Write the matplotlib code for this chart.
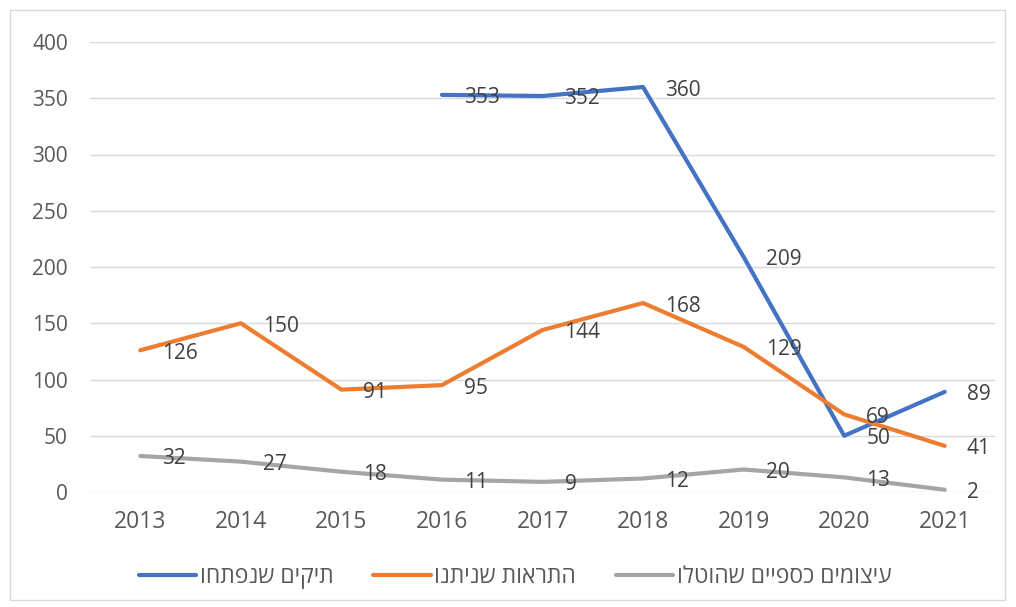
import numpy as np
import matplotlib.pyplot as plt
from matplotlib.patches import Rectangle

years = ['2013', '2014', '2015', '2016', '2017', '2018', '2019', '2020', '2021']
opened = [None, None, None, 353, 352, 360, 209, 50, 89]
warnings = [126, 150, 91, 95, 144, 168, 129, 69, 41]
sanctions = [32, 27, 18, 11, 9, 12, 20, 13, 2]

# hebrew names; matplotlib has no bidi, so reverse for visual order
names = ['תיקים שנפתחו', 'התראות שניתנו', 'עיצומים כספיים שהוטלו']
colors = ['#4472C4', '#ED7D31', '#A5A5A5']
text_color = '#595959'

plt.rcParams['font.family'] = ['Open Sans', 'DejaVu Sans']

fig = plt.figure(figsize=(10.16, 6.07), dpi=100)
ax = fig.add_axes([90 / 1016, 1 - 492 / 607, 905 / 1016, 450 / 607])

x = np.arange(len(years))
for series, name, c in zip([opened, warnings, sanctions], names, colors):
    pts = [(xi, v) for xi, v in zip(x, series) if v is not None]
    xs = [p[0] for p in pts]
    ys = [p[1] for p in pts]
    ax.plot(xs, ys, color=c, lw=3, solid_capstyle='round', label=name[::-1])
    for xi, v in pts:
        ax.annotate(str(v), (xi, v), xytext=(22, -3), textcoords='offset pixels',
                    ha='left', va='center', fontsize=15, color='#404040')

ax.set_xlim(-0.5, 8.5)
ax.set_ylim(0, 400)
ax.set_yticks(range(0, 401, 50))
ax.set_xticks(x)
ax.set_xticklabels(years)
ax.grid(axis='y', color='#D9D9D9', lw=1)
ax.set_axisbelow(True)
for s in ax.spines.values():
    s.set_visible(False)
ax.tick_params(length=0, colors=text_color)
ax.tick_params(axis='y', pad=16, labelsize=15)
ax.tick_params(axis='x', pad=13, labelsize=16.5)

leg = fig.legend(loc='center', bbox_to_anchor=(0.507, 1 - 577 / 607), ncol=3,
                 frameon=False, fontsize=16.5, handlelength=2.5, columnspacing=1.75,
                 handletextpad=0.15)
for t in leg.get_texts():
    t.set_color(text_color)

fig.patches.append(Rectangle((10 / 1016, 1 - 600 / 607), 995 / 1016, 590 / 607,
                             transform=fig.transFigure, fill=False,
                             edgecolor='#D9D9D9', lw=1))

fig.savefig('out.png', dpi=100)
